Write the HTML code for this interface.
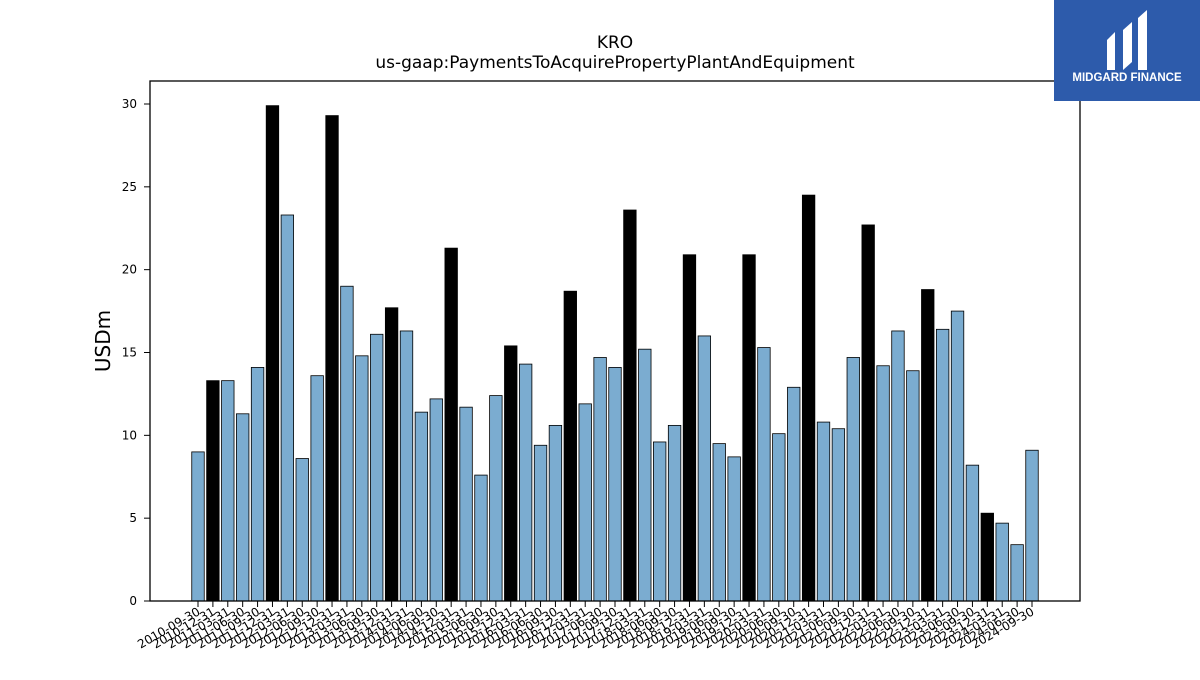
<!DOCTYPE html>
<html><head><meta charset="utf-8"><style>
body{margin:0;background:#fff;width:1200px;height:675px;overflow:hidden;font-family:"Liberation Sans","DejaVu Sans",sans-serif}
</style></head><body>
<svg id="chart" width="1200" height="675" xmlns="http://www.w3.org/2000/svg">
<text x="615" y="48" font-size="17" text-anchor="middle" font-family="DejaVu Sans, sans-serif">KRO</text>
<text x="615" y="68" font-size="17" text-anchor="middle" font-family="DejaVu Sans, sans-serif">us-gaap:PaymentsToAcquirePropertyPlantAndEquipment</text>
<text transform="translate(110,341) rotate(-90)" font-size="20" text-anchor="middle" font-family="DejaVu Sans, sans-serif">USDm</text>
<g id="bars"></g>
<g id="axes"></g>
<rect x="150" y="81" width="930" height="520" fill="none" stroke="#000" stroke-width="1.3"/>
<g>
<rect x="1054" y="0" width="146" height="101" fill="#2d5bab"/>
<path d="M1107 40 L1115 32 L1115 70 L1107 70 Z M1123 30 L1132 22 L1132 62 L1123 70 Z M1138 18 L1147 10 L1147 70 L1138 70 Z" fill="#fff"/>
<text x="1127" y="81" font-size="11.5" font-weight="bold" fill="#fff" text-anchor="middle">MIDGARD FINANCE</text>
</g>
</svg>
<script>
const dates = [];
(function(){const q=["03-31","06-30","09-30","12-31"];let y=2010,i=2;for(let n=0;n<57;n++){dates.push(y+"-"+q[i]);i++;if(i===4){i=0;y++;}}})();
const values = [9.0,13.3,13.3,11.3,14.1,29.9,23.3,8.6,13.6,29.3,19.0,14.8,16.1,17.7,16.3,11.4,12.2,21.3,11.7,7.6,12.4,15.4,14.3,9.4,10.6,18.7,11.9,14.7,14.1,23.6,15.2,9.6,10.6,20.9,16.0,9.5,8.7,20.9,15.3,10.1,12.9,24.5,10.8,10.4,14.7,22.7,14.2,16.3,13.9,18.8,16.4,17.5,8.2,5.3,4.7,3.4,9.1];
const yTicks = [0,5,10,15,20,25,30];
const NS="http://www.w3.org/2000/svg";
const x0=198, step=(1032-198)/56, y0=601, ppu=(601-104)/30, bw=12.5;
const xs=i=>x0+i*step, ys=v=>y0-v*ppu;
const bars=document.getElementById('bars'), axes=document.getElementById('axes');
values.forEach((v,i)=>{
  const r=document.createElementNS(NS,'rect');
  
  
  r.setAttribute('x',xs(i)-bw/2);r.setAttribute('y',ys(v));r.setAttribute('width',bw);r.setAttribute('height',v*ppu);
  r.setAttribute('fill',dates[i].endsWith('12-31')?'#000':'#7bacd0');r.setAttribute('stroke','#000');r.setAttribute('stroke-width','0.8');
  bars.appendChild(r);
  const t=document.createElementNS(NS,'line');
  
  
  t.setAttribute('x1',xs(i));t.setAttribute('x2',xs(i));t.setAttribute('y1',601);t.setAttribute('y2',607);t.setAttribute('stroke','#000');
  axes.appendChild(t);
  const l=document.createElementNS(NS,'text');
  
  
  l.setAttribute('transform','translate('+(xs(i)+3)+',614) rotate(-30)');
  l.setAttribute('text-anchor','end');l.setAttribute('font-size','12');l.setAttribute('font-family','DejaVu Sans, sans-serif');
  l.textContent=dates[i];axes.appendChild(l);
});
yTicks.forEach(v=>{
  const t=document.createElementNS(NS,'line');
  
  
  t.setAttribute('x1',144);t.setAttribute('x2',150);t.setAttribute('y1',ys(v));t.setAttribute('y2',ys(v));t.setAttribute('stroke','#000');
  axes.appendChild(t);
  const l=document.createElementNS(NS,'text');
  
  
  l.setAttribute('x',137);l.setAttribute('y',ys(v)+4);l.setAttribute('text-anchor','end');l.setAttribute('font-size','12');l.setAttribute('font-family','DejaVu Sans, sans-serif');
  l.textContent=v;axes.appendChild(l);
});
</script>
</body></html>
